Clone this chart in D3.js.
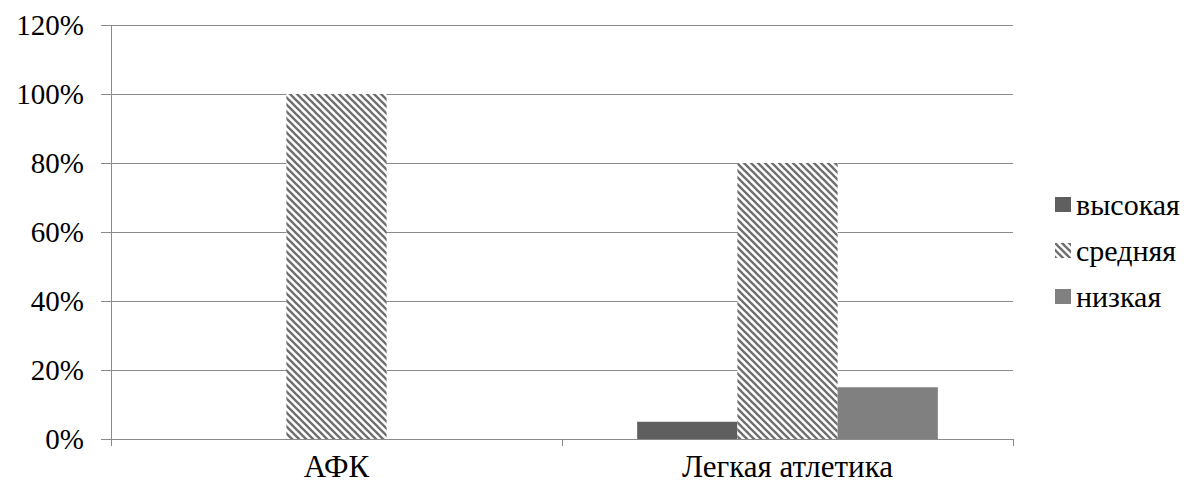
<!DOCTYPE html>
<html>
<head>
<meta charset="utf-8">
<script src="https://cdn.jsdelivr.net/npm/d3@7"></script>
</head>
<body style="margin:0">
<svg id="s" width="1189" height="484"></svg>
<script>
// Categories, series and their values (share of students)
const categories = ["АФК", "Легкая атлетика"];
const seriesNames = ["высокая", "средняя", "низкая"];
const vysokaya = [0, 0.05];
const srednyaya = [1.0, 0.80];
const nizkaya = [0, 0.15];
const yTicks = [0, 0.2, 0.4, 0.6, 0.8, 1.0, 1.2];

const seriesValues = [vysokaya, srednyaya, nizkaya];

const svg = d3.select("#s");
const plotLeft = 111, plotRight = 1013, plotTop = 25, plotBottom = 439;
const gridColor = "#8a8a8a";
const fontName = "Tinos";

// hatch pattern for the middle series
const defs = svg.append("defs");
const pat = defs.append("pattern")
  .attr("id", "hatch")
  .attr("patternUnits", "userSpaceOnUse")
  .attr("width", 7).attr("height", 7);
pat.append("rect").attr("width", 7).attr("height", 7).attr("fill", "#fff");
pat.append("path")
  .attr("d", "M0,0 L7,7 M-1,6 L1,8 M6,-1 L8,1")
  .attr("stroke", "#6e6e6e").attr("stroke-width", 2.3);

const fills = ["#5f5f5f", "url(#hatch)", "#808080"];

const x0 = d3.scaleBand().domain(categories).range([plotLeft, plotRight]).padding(0);
const x1 = d3.scaleBand().domain(seriesNames).range([0, x0.bandwidth()])
  .paddingInner(0).paddingOuter(0.75);
const y = d3.scaleLinear().domain([0, 1.2]).range([plotBottom, plotTop]);

// horizontal gridlines
svg.append("g").selectAll("line").data(yTicks).join("line")
  .attr("x1", plotLeft - 10).attr("x2", plotRight)
  .attr("y1", d => Math.round(y(d)) + 0.5).attr("y2", d => Math.round(y(d)) + 0.5)
  .attr("stroke", gridColor).attr("stroke-width", 1);

// bars
const data = [];
categories.forEach((c, i) => seriesNames.forEach((s, j) => {
  data.push({ cat: c, series: s, idx: j, value: seriesValues[j][i] });
}));
svg.append("g").selectAll("rect").data(data.filter(d => d.value > 0)).join("rect")
  .attr("x", d => x0(d.cat) + x1(d.series))
  .attr("width", x1.bandwidth())
  .attr("y", d => y(d.value))
  .attr("height", d => y(0) - y(d.value))
  .attr("fill", d => fills[d.idx]);

// axis lines
svg.append("line")
  .attr("x1", plotLeft + 0.5).attr("x2", plotLeft + 0.5)
  .attr("y1", plotTop).attr("y2", plotBottom + 7)
  .attr("stroke", gridColor);
const catEdges = categories.map(c => x0(c) + x0.bandwidth());
svg.append("g").selectAll("line").data(catEdges).join("line")
  .attr("x1", d => Math.round(d) + 0.5).attr("x2", d => Math.round(d) + 0.5)
  .attr("y1", plotBottom).attr("y2", plotBottom + 7)
  .attr("stroke", gridColor);

// legend swatches
svg.selectAll("rect.legkey").data(seriesNames).join("rect")
  .attr("class", "legkey")
  .attr("x", 1055).attr("y", (d, i) => 197 + i * 46)
  .attr("width", 16).attr("height", 15)
  .attr("fill", (d, i) => fills[i]);

// all text labels: y ticks, categories, legend
const labels = [
  ...yTicks.map(v => ({ t: d3.format(".0%")(v), x: 84, y: y(v) + 10, a: "end", s: 29 })),
  ...categories.map(c => ({ t: c, x: x0(c) + x0.bandwidth() / 2, y: 477, a: "middle", s: 31 })),
  ...seriesNames.map((n, i) => ({ t: n, x: 1076, y: 215 + i * 46, a: "start", s: 30 }))
];
svg.selectAll("text").data(labels).join("text")
  .attr("x", d => d.x)
  .attr("y", d => d.y)
  .attr("text-anchor", d => d.a)
  .attr("font-size", d => d.s)
  .style("font-family", d => `"${fontName}"`)
  .text(d => d.t);
</script>
</body>
</html>
